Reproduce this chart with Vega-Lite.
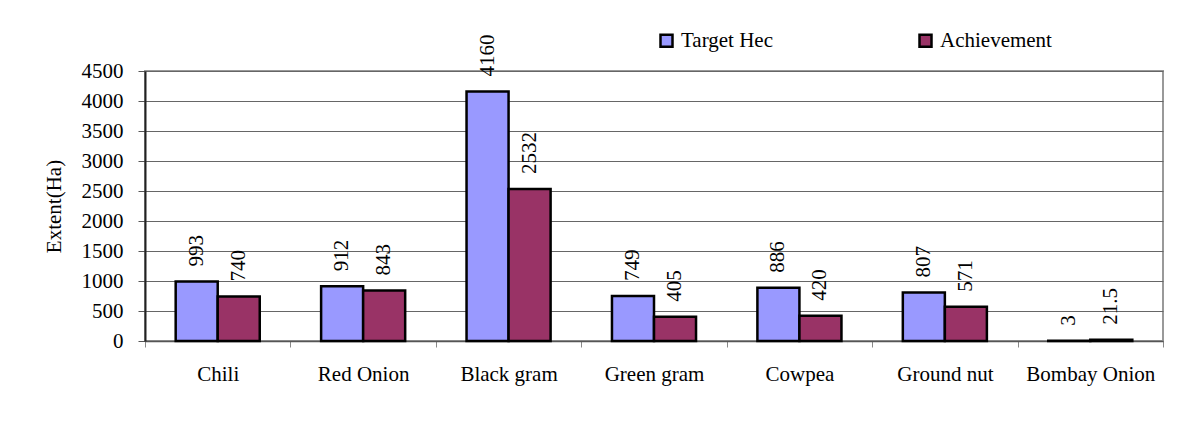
{
  "$schema": "https://vega.github.io/schema/vega-lite/v6.json",
  "width": 1018,
  "height": 270,
  "autosize": {"type": "none"},
  "padding": {"left": 145, "top": 71, "right": 15, "bottom": 83},
  "background": "white",
  "config": {
    "view": {"stroke": "#999999", "strokeWidth": 2},
    "font": "Liberation Serif",
    "axis": {"labelFont": "Liberation Serif", "titleFont": "Liberation Serif"},
    "legend": {"labelFont": "Liberation Serif", "titleFont": "Liberation Serif"},
    "text": {"font": "Liberation Serif"}
  },
  "data": {
    "values": [
      {"crop": "Chili", "series": "Target Hec", "value": 993},
      {"crop": "Chili", "series": "Achievement", "value": 740},
      {"crop": "Red Onion", "series": "Target Hec", "value": 912},
      {"crop": "Red Onion", "series": "Achievement", "value": 843},
      {"crop": "Black gram", "series": "Target Hec", "value": 4160},
      {"crop": "Black gram", "series": "Achievement", "value": 2532},
      {"crop": "Green gram", "series": "Target Hec", "value": 749},
      {"crop": "Green gram", "series": "Achievement", "value": 405},
      {"crop": "Cowpea", "series": "Target Hec", "value": 886},
      {"crop": "Cowpea", "series": "Achievement", "value": 420},
      {"crop": "Ground nut", "series": "Target Hec", "value": 807},
      {"crop": "Ground nut", "series": "Achievement", "value": 571},
      {"crop": "Bombay Onion", "series": "Target Hec", "value": 3},
      {"crop": "Bombay Onion", "series": "Achievement", "value": 21.5}
    ]
  },
  "encoding": {
    "x": {
      "field": "crop",
      "type": "nominal",
      "sort": null,
      "scale": {"paddingInner": 0, "paddingOuter": 0},
      "axis": {
        "title": null,
        "labelAngle": 0,
        "labelFont": "Liberation Serif",
        "labelFontSize": 21,
        "labelColor": "black",
        "labelPadding": 16,
        "tickBand": "extent",
        "tickSize": 6,
        "tickColor": "#888888",
        "domainColor": "#555555",
        "domainWidth": 1.5,
        "grid": false
      }
    },
    "xOffset": {
      "field": "series",
      "type": "nominal",
      "sort": ["Target Hec", "Achievement"],
      "scale": {"paddingInner": 0, "paddingOuter": 0.73}
    },
    "y": {
      "field": "value",
      "type": "quantitative",
      "scale": {"domain": [0, 4500], "nice": false},
      "axis": {
        "title": "Extent(Ha)",
        "titleFont": "Liberation Serif",
        "titleFontSize": 21,
        "titleFontWeight": "normal",
        "titleColor": "black",
        "titlePadding": 17,
        "values": [0, 500, 1000, 1500, 2000, 2500, 3000, 3500, 4000, 4500],
        "format": "d",
        "labelFont": "Liberation Serif",
        "labelFontSize": 21,
        "labelColor": "black",
        "labelPadding": 15,
        "tickSize": 7,
        "tickColor": "#555555",
        "domainColor": "#222222",
        "domainWidth": 2,
        "grid": true,
        "gridColor": "#666666",
        "gridWidth": 1
      }
    }
  },
  "layer": [
    {
      "mark": {"type": "bar", "stroke": "black", "strokeWidth": 2.5},
      "encoding": {
        "color": {
          "field": "series",
          "type": "nominal",
          "sort": ["Target Hec", "Achievement"],
          "scale": {"domain": ["Target Hec", "Achievement"], "range": ["#9999FF", "#993366"]},
          "legend": {
            "title": null,
            "orient": "none",
            "legendX": 511,
            "legendY": -41,
            "direction": "horizontal",
            "symbolType": "square",
            "symbolSize": 144,
            "symbolStrokeColor": "black",
            "symbolStrokeWidth": 2.5,
            "labelFont": "Liberation Serif",
            "labelFontSize": 21,
            "labelColor": "black",
            "labelOffset": 4,
            "columnPadding": 140
          }
        }
      }
    },
    {
      "mark": {
        "type": "text",
        "angle": 270,
        "align": "left",
        "baseline": "middle",
        "dx": 15,
        "font": "Liberation Serif",
        "fontSize": 21,
        "color": "black"
      },
      "encoding": {
        "text": {"field": "value", "type": "quantitative"}
      }
    }
  ]
}
